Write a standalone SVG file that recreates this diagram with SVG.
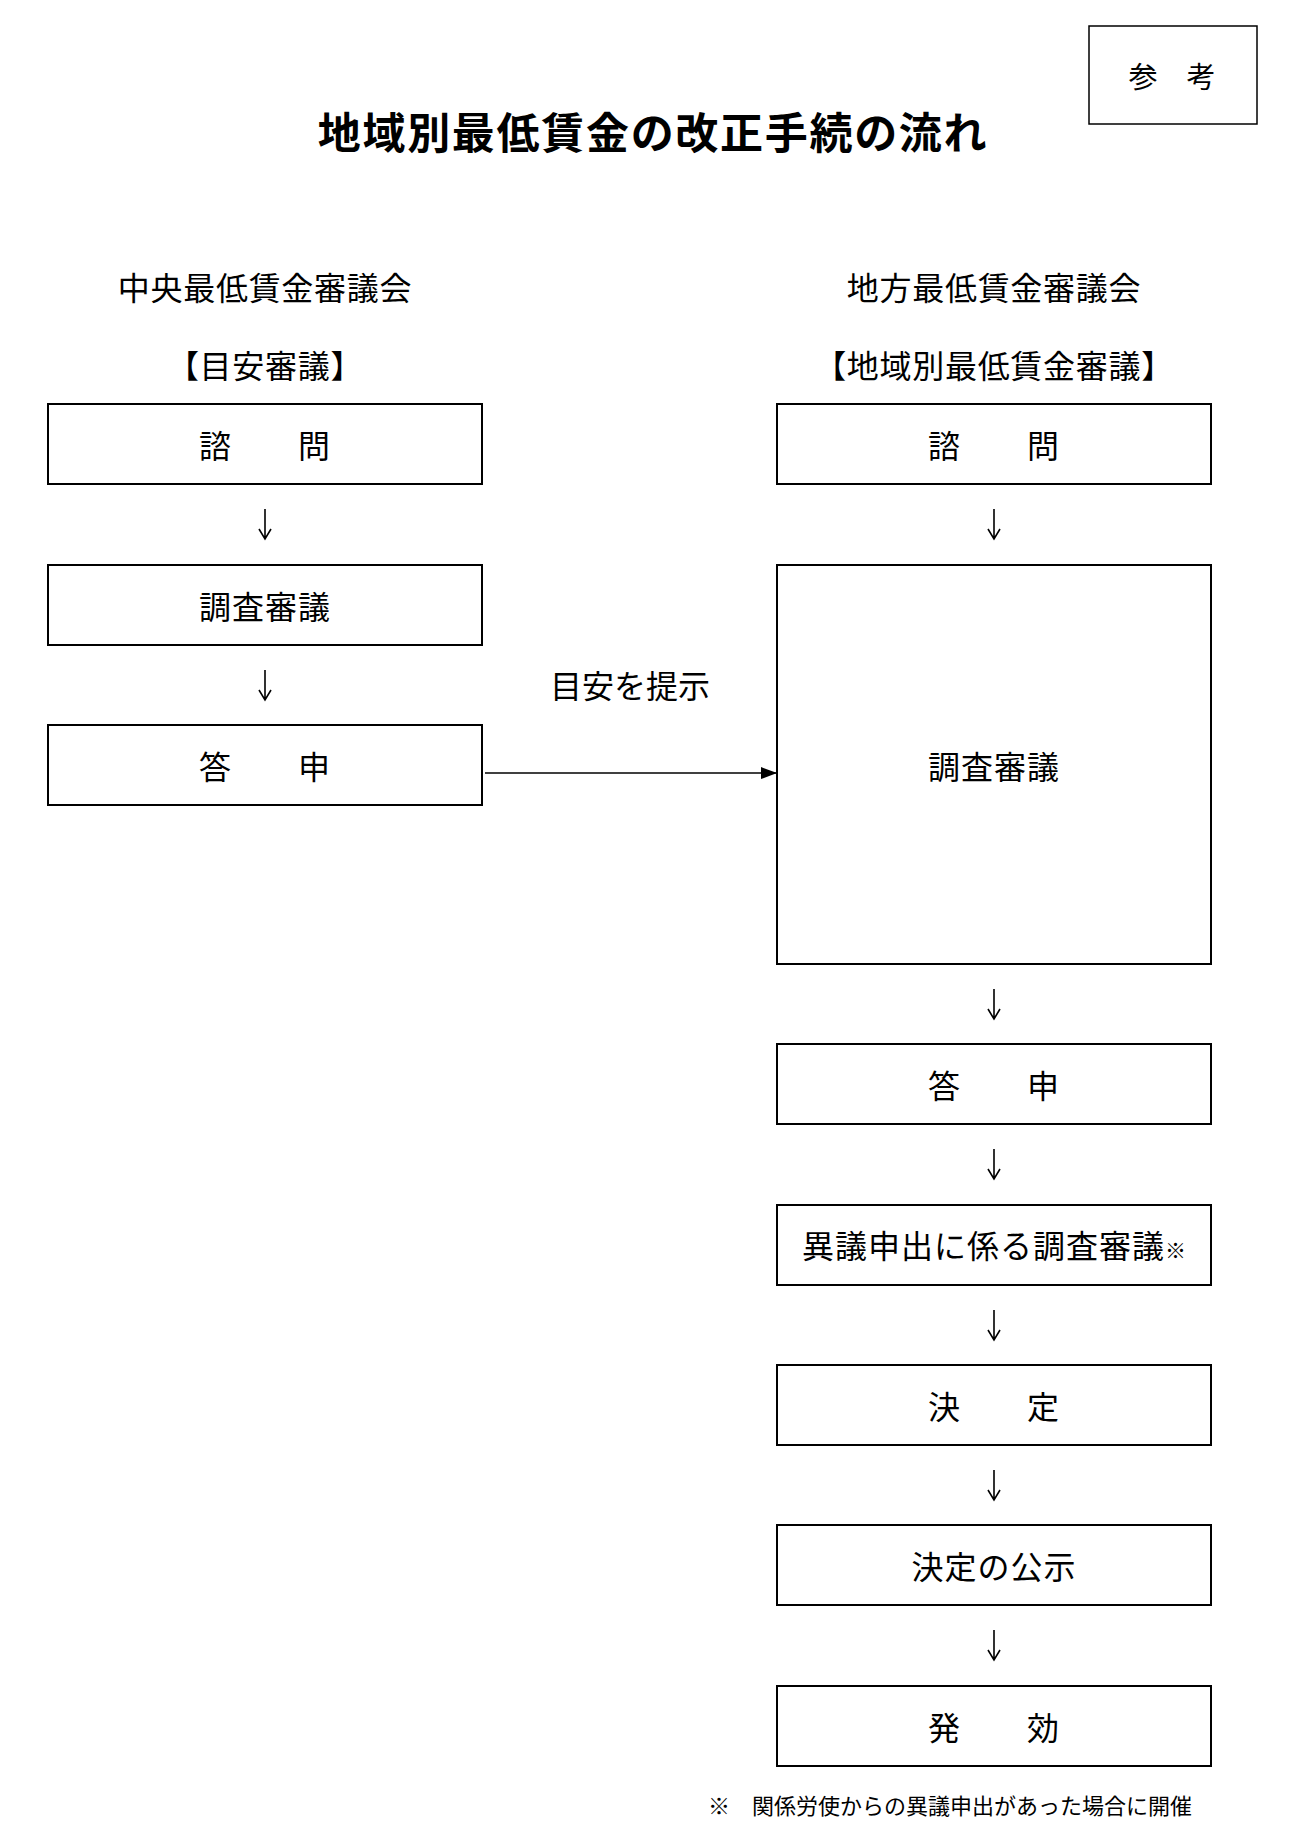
<svg xmlns="http://www.w3.org/2000/svg" width="1291" height="1836" viewBox="0 0 1291 1836">
<defs>
<style>
text{font-family:"Noto Sans CJK JP","Noto Sans CJK SC",sans-serif;fill:#000;text-anchor:middle}
.box{fill:#fff;stroke:#000;stroke-width:2}
.t{font-size:32px;letter-spacing:1px}
.h{font-size:32px;letter-spacing:0.7px}
.title{font-size:43px;font-weight:700;letter-spacing:1.7px}
.arr{fill:none;stroke:#000;stroke-width:1.6}
</style>
<marker id="ah" viewBox="0 0 16 12" refX="16" refY="6" markerWidth="16" markerHeight="12" markerUnits="userSpaceOnUse" orient="auto">
<path d="M0,0 L16,6 L0,12 Z" fill="#000"/>
</marker>
</defs>
<rect width="1291" height="1836" fill="#fff"/>

<g id="ref-label">
<rect x="1089" y="26" width="168" height="98" fill="#fff" stroke="#000" stroke-width="1.5"/>
<text x="1172" y="88" style="font-size:29px">参　考</text>
</g>

<g id="title">
<text class="title" x="653" y="149">地域別最低賃金の改正手続の流れ</text>
</g>

<g id="header-left">
<text class="h" x="265" y="300">中央最低賃金審議会</text>
<text class="h" x="265" y="378">【目安審議】</text>
</g>
<g id="header-right">
<text class="h" x="994" y="300">地方最低賃金審議会</text>
<text class="h" x="994" y="378">【地域別最低賃金審議】</text>
</g>

<g id="L1"><rect class="box" x="48" y="404" width="434" height="80"/><text class="t" x="265" y="458">諮　　問</text></g>
<g id="L2"><rect class="box" x="48" y="565" width="434" height="80"/><text class="t" x="265" y="619">調査審議</text></g>
<g id="L3"><rect class="box" x="48" y="725" width="434" height="80"/><text class="t" x="265" y="779">答　　申</text></g>

<g id="R1"><rect class="box" x="777" y="404" width="434" height="80"/><text class="t" x="994" y="458">諮　　問</text></g>
<g id="R2"><rect class="box" x="777" y="565" width="434" height="399"/><text class="t" x="994" y="779">調査審議</text></g>
<g id="R3"><rect class="box" x="777" y="1044" width="434" height="80"/><text class="t" x="994" y="1098">答　　申</text></g>
<g id="R4"><rect class="box" x="777" y="1205" width="434" height="80"/><text class="t" x="994" y="1258">異議申出に係る調査審議<tspan style="font-size:21px;letter-spacing:0">※</tspan></text></g>
<g id="R5"><rect class="box" x="777" y="1365" width="434" height="80"/><text class="t" x="994" y="1419">決　　定</text></g>
<g id="R6"><rect class="box" x="777" y="1525" width="434" height="80"/><text class="t" x="994" y="1579">決定の公示</text></g>
<g id="R7"><rect class="box" x="777" y="1686" width="434" height="80"/><text class="t" x="994" y="1740">発　　効</text></g>

<g id="connectors">
<path class="arr" d="M265,509 V539 M259,529 L265,539 L271,529"/>
<path class="arr" d="M265,670 V700 M259,690 L265,700 L271,690"/>
<path class="arr" d="M994,509 V539 M988,529 L994,539 L1000,529"/>
<path class="arr" d="M994,989 V1019 M988,1009 L994,1019 L1000,1009"/>
<path class="arr" d="M994,1149 V1179 M988,1169 L994,1179 L1000,1169"/>
<path class="arr" d="M994,1310 V1340 M988,1330 L994,1340 L1000,1330"/>
<path class="arr" d="M994,1470 V1500 M988,1490 L994,1500 L1000,1490"/>
<path class="arr" d="M994,1630 V1660 M988,1650 L994,1660 L1000,1650"/>
<line x1="485" y1="773" x2="777" y2="773" stroke="#000" stroke-width="1.6" marker-end="url(#ah)"/>
<text class="t" x="630" y="698" style="letter-spacing:0">目安を提示</text>
</g>

<g id="footnote">
<text x="708" y="1814" style="font-size:22px;text-anchor:start">※　関係労使からの異議申出があった場合に開催</text>
</g>
</svg>
